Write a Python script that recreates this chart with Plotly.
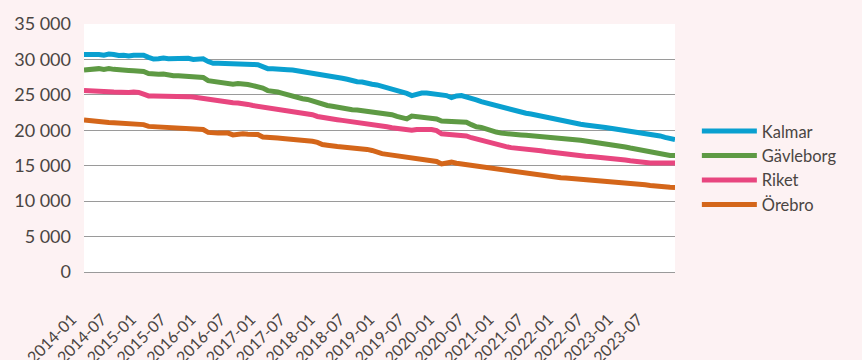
import plotly.graph_objects as go

months = [f"{y}-{m:02d}" for y in range(2014, 2024) for m in range(1, 13)]
tick_labels = [months[i] for i in range(0, 120, 6)]

kalmar = [30700, 30750, 30800, 30700, 30600, 30750, 30700, 30550, 30600, 30500, 30600, 30550,
          30600, 30300, 30050, 30100, 30200, 30100, 30150, 30200, 30100, 30150, 30000, 30050,
          30100, 29700, 29450, 29450, 29450, 29450, 29350, 29400, 29350, 29400, 29300, 29250,
          28950, 28700, 28700, 28700, 28650, 28550, 28500, 28400, 28300, 28200, 28100, 28000,
          27900, 27800, 27650, 27500, 27350, 27200, 27000, 26850, 26800, 26600, 26500, 26400,
          26200, 26000, 25850, 25700, 25500, 25200, 24900, 25100, 25250, 25250, 25200, 25150,
          25100, 24900, 24600, 24850, 24900, 24750, 24500, 24300, 24050, 23850, 23700, 23500,
          23350, 23100, 22900, 22700, 22500, 22400, 22300, 22150, 21950, 21850, 21700, 21550,
          21300, 21150, 21050, 20950, 20850, 20750, 20700, 20600, 20500, 20400, 20300, 20200,
          20050, 19900, 19800, 19650, 19550, 19450, 19350, 19300, 19200, 19000, 18850, 18700]

gavleborg = [28500, 28600, 28650, 28700, 28600, 28700, 28600, 28500, 28550, 28450, 28400, 28350,
             28300, 28000, 27900, 27900, 27950, 27800, 27700, 27700, 27650, 27650, 27700, 27500,
             27450, 27000, 26900, 26800, 26700, 26600, 26500, 26600, 26600, 26450, 26300, 26150,
             25950, 25600, 25550, 25400, 25200, 25000, 24800, 24550, 24450, 24350, 24100, 23950,
             23750, 23500, 23400, 23250, 23100, 23000, 22900, 22850, 22750, 22700, 22650, 22600,
             22500, 22400, 22200, 21950, 21700, 21600, 22000, 21900, 21850, 21800, 21650, 21600,
             21300, 21250, 21300, 21300, 21200, 21150, 20800, 20500, 20400, 20150, 20000, 19750,
             19600, 19500, 19400, 19400, 19350, 19300, 19250, 19150, 19100, 19000, 18950, 18900,
             18850, 18800, 18700, 18650, 18600, 18500, 18400, 18300, 18250, 18200, 18000, 17900,
             17750, 17650, 17500, 17350, 17200, 17050, 16900, 16750, 16600, 16500, 16450, 16450]

riket = [25600, 25600, 25580, 25550, 25500, 25450, 25400, 25350, 25300, 25350, 25400, 25350,
         25100, 24850, 24850, 24850, 24900, 24900, 24900, 24850, 24800, 24750, 24700, 24600,
         24500, 24300, 24150, 24050, 24000, 23950, 23900, 23850, 23800, 23650, 23500, 23400,
         23300, 23200, 23100, 23050, 22950, 22850, 22750, 22650, 22550, 22400, 22200, 21950,
         21800, 21700, 21600, 21500, 21400, 21300, 21200, 21100, 21000, 20950, 20900, 20850,
         20700, 20500, 20350, 20250, 20150, 20050, 20000, 20100, 20150, 20150, 20100, 19950,
         19500, 19450, 19400, 19400, 19350, 19200, 18950, 18750, 18600, 18400, 18250, 18100,
         17900, 17700, 17550, 17500, 17450, 17400, 17350, 17250, 17100, 17000, 16900, 16800,
         16700, 16600, 16500, 16450, 16400, 16350, 16300, 16250, 16200, 16150, 16050, 15950,
         15900, 15800, 15700, 15600, 15500, 15450, 15400, 15400, 15380, 15380, 15370, 15370]

orebro = [21450, 21350, 21250, 21200, 21150, 21100, 21050, 21000, 21000, 20950, 20900, 20950,
          20800, 20550, 20500, 20500, 20450, 20400, 20350, 20300, 20250, 20250, 20200, 20150,
          20100, 19700, 19600, 19600, 19600, 19600, 19350, 19450, 19500, 19450, 19450, 19400,
          19050, 18950, 18950, 18900, 18850, 18800, 18750, 18650, 18600, 18550, 18450, 18300,
          18000, 17900, 17750, 17700, 17650, 17600, 17450, 17400, 17350, 17300, 17150, 16900,
          16700, 16600, 16500, 16400, 16250, 16200, 16150, 16050, 15950, 15850, 15750, 15600,
          15250, 15350, 15500, 15350, 15250, 15100, 15000, 14850, 14750, 14700, 14650, 14550,
          14450, 14300, 14200, 14100, 13950, 13850, 13800, 13700, 13600, 13500, 13450, 13400,
          13300, 13250, 13200, 13100, 13050, 13000, 12950, 12900, 12850, 12800, 12750, 12700,
          12650, 12600, 12500, 12450, 12400, 12300, 12200, 12100, 12050, 12000, 11950, 11930]

series = [("Kalmar", kalmar, "#0aa0d0"),
          ("Gävleborg", gavleborg, "#5e9a44"),
          ("Riket", riket, "#e8467f"),
          ("Örebro", orebro, "#d4661a")]

text_color = "#4a4542"
font_family = "Lato, 'Open Sans', sans-serif"

fig = go.Figure()
for name, vals, color in series:
    fig.add_trace(go.Scatter(x=months, y=vals, name=name, mode="lines",
                             line=dict(color=color, width=5)))

fig.update_layout(
    width=862, height=360,
    margin=dict(l=84, r=187, t=24, b=88, autoexpand=False),
    paper_bgcolor="#fdf2f3",
    plot_bgcolor="#ffffff",
    font=dict(family=font_family, color=text_color, size=16),
    separators=", ",
    showlegend=True,
    legend=dict(x=1.037, y=0.42, xanchor="left", yanchor="middle",
                itemwidth=55,
                font=dict(size=16.5, color=text_color), bgcolor="rgba(0,0,0,0)"),
)
fig.update_xaxes(type="category", range=[0, 119], tickmode="array",
                 tickvals=tick_labels, ticktext=tick_labels, tickangle=-45,
                 showgrid=False, showline=False, zeroline=False, automargin=False,
                 tickfont=dict(size=16, color=text_color),
                 ticklabelstandoff=34, ticklabelshift=-12)
fig.update_yaxes(range=[0, 35000], dtick=5000, tickformat=",d",
                 showgrid=True, gridcolor="#9a9a9a", gridwidth=1,
                 zeroline=True, zerolinecolor="#9a9a9a", zerolinewidth=1,
                 showline=False, automargin=False,
                 tickfont=dict(size=18, color=text_color),
                 ticklabelstandoff=12)

fig.write_html("out.html")
